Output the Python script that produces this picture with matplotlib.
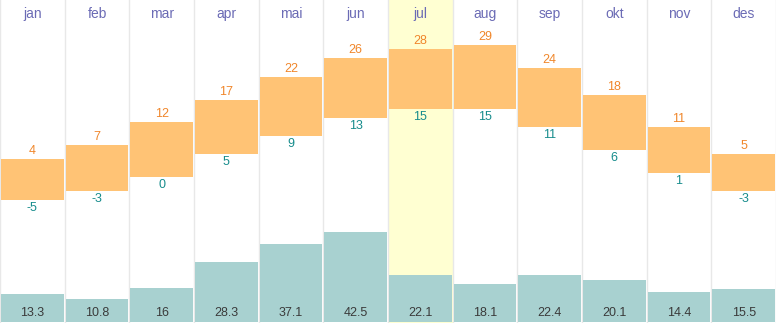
import matplotlib
matplotlib.use("Agg")
import matplotlib.pyplot as plt
import numpy as np

plt.rcParams["font.family"] = ["Liberation Sans", "DejaVu Sans"]

months = ["jan", "feb", "mar", "apr", "mai", "jun", "jul", "aug", "sep", "okt", "nov", "des"]
temp_max = [4, 7, 12, 17, 22, 26, 28, 29, 24, 18, 11, 5]
temp_min = [-5, -3, 0, 5, 9, 13, 15, 15, 11, 6, 1, -3]
precip = [13.3, 10.8, 16, 28.3, 37.1, 42.5, 22.1, 18.1, 22.4, 20.1, 14.4, 15.5]
highlight = "jul"

W, H = 776, 323
fig = plt.figure(figsize=(W / 100, H / 100), dpi=100)
ax = fig.add_axes([0, 0, 1, 1])
ax2 = ax.twinx()
ax.set_zorder(2)
ax.patch.set_visible(False)
ax2.set_zorder(1)

n = len(months)
x = np.arange(n)
ax.set_xlim(-0.5, n - 0.5)
ax2.set_xlim(-0.5, n - 0.5)
ax.set_ylim(-31.9, 38.8)
ax2.set_ylim(-0.5, 152.5)

for a in (ax, ax2):
    a.axis("off")

# highlighted month background and column separators
hi = months.index(highlight)
ax2.axvspan(hi - 0.5, hi + 0.5, color="#ffffd2", zorder=0, lw=0)
for b in np.arange(-0.5, n, 1.0):
    ax2.axvline(b, color="#e8e8e8", lw=1, zorder=0.5)

bw = 0.97
# precipitation bars
ax2.bar(x, precip, width=bw, color="#a8d1d0", zorder=1)
for xi, p in zip(x, precip):
    ax2.annotate(f"{p:g}", (xi, 0), xytext=(0, 9), textcoords="offset pixels",
                 ha="center", va="center", fontsize=9, color="#3a3a3a")

# temperature range bars
ax.bar(x, np.array(temp_max) - np.array(temp_min), bottom=temp_min, width=bw,
       color="#ffc375", zorder=2)
for xi, tmax, tmin in zip(x, temp_max, temp_min):
    ax.annotate(f"{tmax}", (xi, tmax), xytext=(0, 8), textcoords="offset pixels",
                ha="center", va="center", fontsize=9, color="#f0862a")
    ax.annotate(f"{tmin}", (xi, tmin), xytext=(0, -8), textcoords="offset pixels",
                ha="center", va="center", fontsize=9, color="#168c8c")

# month names along the top
for xi, m in zip(x, months):
    ax.text(xi, 1 - 14 / H, m, transform=ax.get_xaxis_transform(),
            ha="center", va="center", fontsize=10, color="#6b6bb5")

fig.savefig("out.png", dpi=100)
